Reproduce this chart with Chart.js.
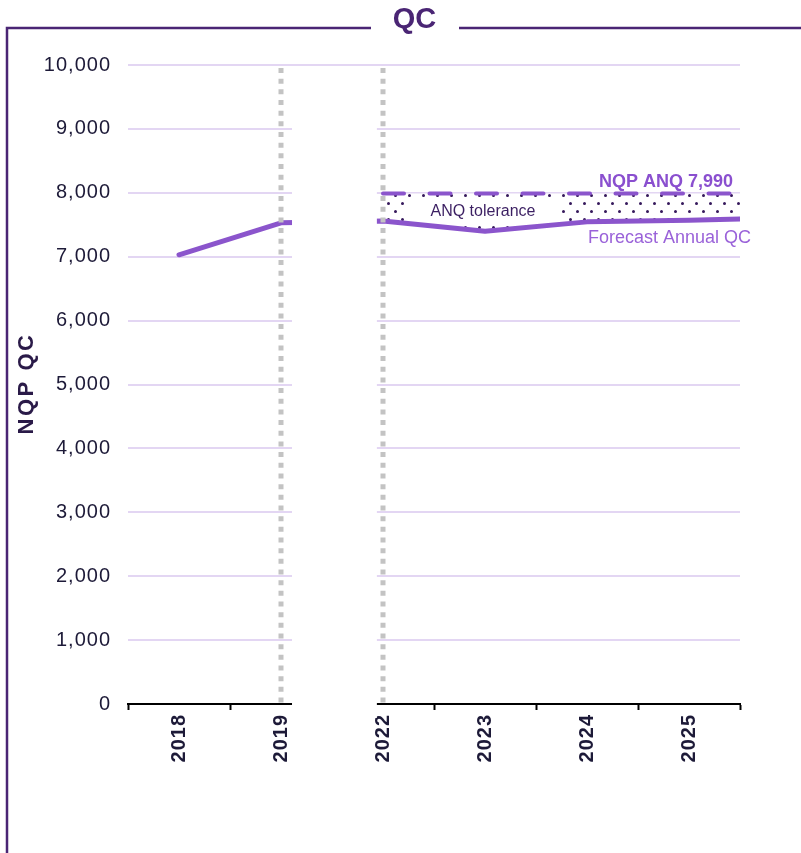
<!DOCTYPE html>
<html>
<head>
<meta charset="utf-8">
<title>QC</title>
<script src="https://cdn.jsdelivr.net/npm/chart.js@4/dist/chart.umd.min.js"></script>
<style>
  html, body { margin: 0; padding: 0; background: #ffffff; }
  #wrap { width: 801px; height: 853px; position: relative; }
</style>
</head>
<body>
<div id="wrap"><canvas id="qc" width="801" height="853"></canvas></div>
<script>
// Years on the axis (2020 and 2021 are cut out by the axis break)
const categories = ['2018', '2019', '2022', '2023', '2024', '2025'];
// Annual QC: actuals then forecast
const annualQc = [7030, 7530, 7560, 7400, 7545, 7570];
// The forecast line runs on to the right edge of the plot
const qcAtRightEdge = 7590;
// ANQ level and the first year it applies to
const anqLevel = 7990;
const anqFromIndex = 2;
// Value axis ticks
const yTicks = [0, 1000, 2000, 3000, 4000, 5000, 6000, 7000, 8000, 9000, 10000];

const FONT = '"Liberation Sans", Arial, Helvetica, sans-serif';
const PURPLE = '#8b55cc';
const DARK_PURPLE = '#4a2574';
const TEXT = '#1d1a38';
const GRID = '#e3d6f3';

const rightEdge = categories.length - 0.5;
const linePoints = annualQc.map((v, i) => ({ x: i, y: v }));
linePoints.push({ x: rightEdge, y: qcAtRightEdge });
const bandFloor = linePoints.filter(p => p.x >= anqFromIndex);
const anqPoints = bandFloor.map(p => ({ x: p.x, y: anqLevel }));

// Dotted fill for the tolerance band
function dotPattern() {
  const c = document.createElement('canvas');
  c.width = 14; c.height = 16;
  const g = c.getContext('2d');
  g.fillStyle = '#ffffff';
  g.fillRect(0, 0, 14, 16);
  g.fillStyle = '#36195c';
  g.beginPath();
  g.arc(3.5, 3.5, 1.5, 0, Math.PI * 2);
  g.arc(10.5, 11.5, 1.5, 0, Math.PI * 2);
  g.fill();
  return g.createPattern(c, 'repeat');
}

const decorations = {
  id: 'decorations',
  beforeDraw(chart) {
    const ctx = chart.ctx;
    const area = chart.chartArea;
    ctx.save();
    ctx.fillStyle = '#ffffff';
    ctx.fillRect(0, 0, chart.width, chart.height);
    // frame with the title set into its top edge
    ctx.strokeStyle = DARK_PURPLE;
    ctx.lineWidth = 2.5;
    ctx.beginPath();
    ctx.moveTo(7, chart.height);
    ctx.lineTo(7, 28);
    ctx.lineTo(371, 28);
    ctx.moveTo(459, 28);
    ctx.lineTo(chart.width, 28);
    ctx.stroke();
    ctx.fillStyle = DARK_PURPLE;
    ctx.font = 'bold 29px ' + FONT;
    ctx.textAlign = 'center';
    ctx.textBaseline = 'middle';
    ctx.fillText('QC', 414.5, 20);
    // value axis title
    ctx.translate(27, (area.top + area.bottom) / 2);
    ctx.rotate(-Math.PI / 2);
    ctx.fillStyle = '#2a1a48';
    ctx.font = 'bold 22px ' + FONT;
    ctx.letterSpacing = '2.5px';
    ctx.fillText('NQP QC', 1, 0);
    ctx.restore();
    // axis tick labels are set slightly spaced
    ctx.letterSpacing = '1px';
  },
  beforeDatasetsDraw(chart) {
    const ctx = chart.ctx;
    ctx.letterSpacing = '0px';
    // label box sitting on the tolerance band
    const xs = chart.scales.xl, ys = chart.scales.y;
    const cx = xs.getPixelForValue(2.98);
    const cy = ys.getPixelForValue(7715);
    ctx.save();
    ctx.fillStyle = '#ffffff';
    ctx.fillRect(cx - 77, cy - 13, 154, 26);
    ctx.fillStyle = '#3b1f62';
    ctx.font = '16px ' + FONT;
    ctx.textAlign = 'center';
    ctx.textBaseline = 'middle';
    ctx.fillText('ANQ tolerance', cx, cy + 1);
    ctx.restore();
  },
  afterDatasetsDraw(chart) {
    const ctx = chart.ctx;
    const xs = chart.scales.xl, ys = chart.scales.y;
    const area = chart.chartArea;
    ctx.save();
    // axis break between 2019 and 2022
    const bx0 = xs.getPixelForValue(1.108);
    const bx1 = xs.getPixelForValue(1.94);
    ctx.fillStyle = '#ffffff';
    ctx.fillRect(bx0, area.top + 2, bx1 - bx0, area.bottom - area.top + 12);
    // dotted markers at the edges of the break
    ctx.strokeStyle = '#c3c3c3';
    ctx.lineWidth = 5;
    ctx.setLineDash([5, 5.67]);
    [1, 2].forEach(i => {
      const x = xs.getPixelForValue(i);
      ctx.beginPath();
      ctx.moveTo(x, area.top + 3);
      ctx.lineTo(x, area.bottom);
      ctx.stroke();
    });
    ctx.setLineDash([]);
    // series labels
    ctx.textAlign = 'right';
    ctx.textBaseline = 'alphabetic';
    ctx.fillStyle = '#8a4fcf';
    ctx.font = 'bold 18px ' + FONT;
    ctx.fillText('NQP ANQ ' + anqLevel.toLocaleString('en-US'), area.right - 7, ys.getPixelForValue(anqLevel) - 6);
    ctx.fillStyle = '#9a62d9';
    ctx.font = '18px ' + FONT;
    ctx.fillText('Forecast Annual QC', area.right + 11, ys.getPixelForValue(qcAtRightEdge) + 24);
    ctx.restore();
  }
};

new Chart(document.getElementById('qc'), {
  type: 'line',
  data: {
    labels: categories,
    datasets: [
      {
        label: 'Annual QC',
        xAxisID: 'xl',
        data: linePoints,
        borderColor: PURPLE,
        borderWidth: 5,
        borderCapStyle: 'round',
        borderJoinStyle: 'round',
        pointRadius: 0,
        fill: false,
        tension: 0
      },
      {
        label: 'NQP ANQ',
        xAxisID: 'xl',
        data: anqPoints,
        borderColor: PURPLE,
        borderWidth: 4,
        borderDash: [21, 25.5],
        borderCapStyle: 'round',
        pointRadius: 0,
        backgroundColor: dotPattern(),
        fill: { target: 2 },
        tension: 0
      },
      {
        label: 'band floor',
        xAxisID: 'xl',
        data: bandFloor,
        borderWidth: 0,
        borderColor: 'rgba(0,0,0,0)',
        pointRadius: 0,
        fill: false,
        tension: 0
      }
    ]
  },
  options: {
    responsive: false,
    animation: false,
    devicePixelRatio: 1,
    layout: { padding: { top: 65, right: 61, bottom: 0, left: 0 } },
    plugins: {
      legend: { display: false },
      tooltip: { enabled: false },
      title: { display: false },
      filler: { drawTime: 'beforeDatasetsDraw' }
    },
    scales: {
      x: {
        type: 'category',
        offset: true,
        afterFit(s) { s.height = 149; },
        grid: {
          offset: true,
          drawOnChartArea: false,
          drawTicks: true,
          tickLength: 6,
          tickWidth: 2,
          tickColor: '#000000'
        },
        border: { display: true, color: '#000000', width: 2 },
        ticks: {
          minRotation: 90,
          maxRotation: 90,
          padding: 4,
          color: TEXT,
          font: { family: FONT, size: 20, weight: 'bold' }
        }
      },
      xl: {
        type: 'linear',
        display: false,
        min: -0.5,
        max: rightEdge
      },
      y: {
        min: 0,
        max: 10000,
        afterBuildTicks(s) { s.ticks = yTicks.map(v => ({ value: v })); },
        afterFit(s) { s.width = 128; },
        grid: { color: GRID, lineWidth: 2, drawTicks: false },
        border: { display: false },
        ticks: {
          padding: 17,
          color: TEXT,
          font: { family: FONT, size: 20 },
          callback: v => v.toLocaleString('en-US')
        }
      }
    }
  },
  plugins: [decorations]
});
</script>
</body>
</html>
